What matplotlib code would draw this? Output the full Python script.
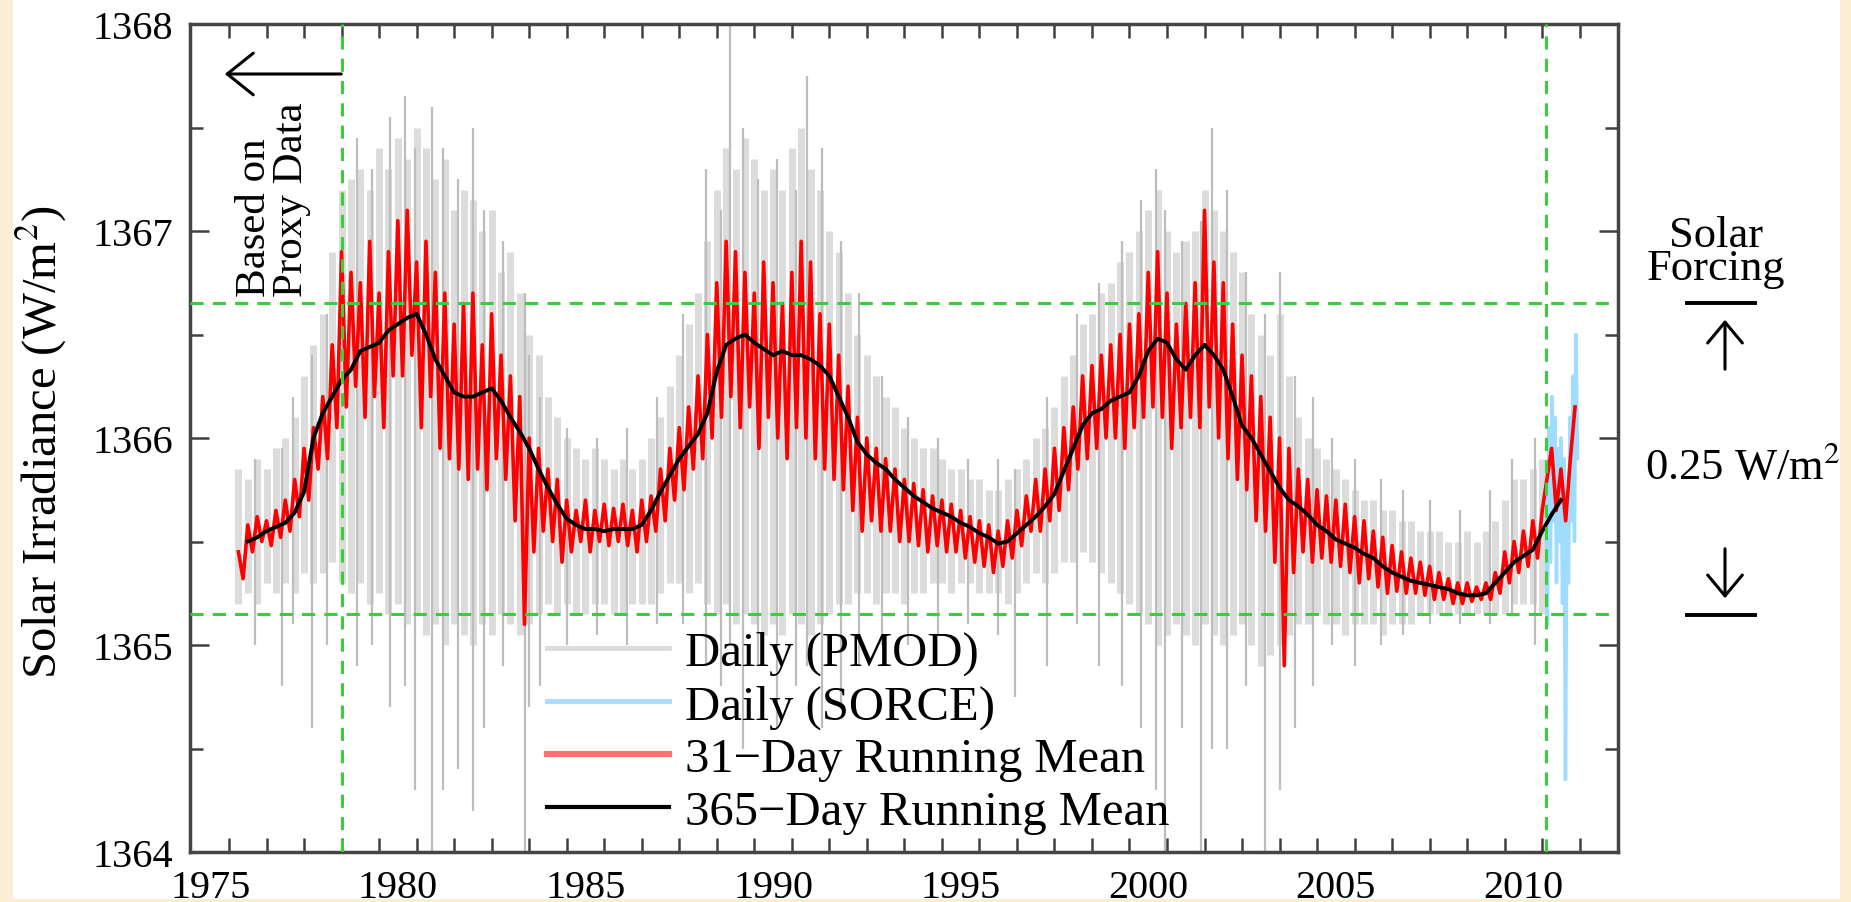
import numpy as np
import matplotlib.pyplot as plt
from matplotlib.lines import Line2D
from matplotlib.patches import Rectangle, FancyArrowPatch

plt.rcParams['font.family'] = ['Liberation Serif', 'DejaVu Serif']
plt.rcParams['mathtext.fontset'] = 'stix'

# ---------------------------------------------------------------------------
# data (W/m^2)

year_labels = [1975, 1980, 1985, 1990, 1995, 2000, 2005, 2010]

# 365-day running mean, quarterly from 1976.0 to 2011.0
mean365_t = np.arange(1976.0, 2011.01, 0.25)
mean365 = [
    1365.50, 1365.52, 1365.55, 1365.57,
    1365.59, 1365.64, 1365.74, 1366.00,
    1366.12, 1366.20, 1366.28, 1366.33,
    1366.42, 1366.44, 1366.46, 1366.52,
    1366.55, 1366.58, 1366.60, 1366.50,
    1366.38, 1366.30, 1366.22, 1366.20,
    1366.20, 1366.22, 1366.24, 1366.18,
    1366.10, 1366.03, 1365.95, 1365.85,
    1365.76, 1365.68, 1365.61, 1365.58,
    1365.56, 1365.56, 1365.55, 1365.56,
    1365.56, 1365.56, 1365.58, 1365.65,
    1365.74, 1365.82, 1365.90, 1365.96,
    1366.02, 1366.12, 1366.32, 1366.45,
    1366.48, 1366.50, 1366.46, 1366.43,
    1366.40, 1366.42, 1366.40, 1366.40,
    1366.38, 1366.35, 1366.30, 1366.20,
    1366.10, 1365.98, 1365.92, 1365.88,
    1365.85, 1365.80, 1365.76, 1365.72,
    1365.69, 1365.66, 1365.64, 1365.62,
    1365.59, 1365.57, 1365.54, 1365.52,
    1365.49, 1365.50, 1365.54, 1365.58,
    1365.62, 1365.67, 1365.73, 1365.84,
    1365.95, 1366.06, 1366.12, 1366.14,
    1366.18, 1366.20, 1366.22, 1366.30,
    1366.42, 1366.48, 1366.46, 1366.38,
    1366.33, 1366.40, 1366.45, 1366.40,
    1366.33, 1366.20, 1366.06, 1366.00,
    1365.92, 1365.84, 1365.76, 1365.70,
    1365.67, 1365.63, 1365.58, 1365.55,
    1365.51, 1365.49, 1365.47, 1365.44,
    1365.42, 1365.38, 1365.35, 1365.33,
    1365.31, 1365.30, 1365.29, 1365.28,
    1365.27, 1365.25, 1365.24, 1365.24,
    1365.25, 1365.30, 1365.35, 1365.40,
    1365.43, 1365.46, 1365.55, 1365.63,
    1365.70,
]

# 31-day running mean, every 1/8 year from 1975.75 to 2011.375
mean31_t = np.arange(1975.75, 2011.376, 0.125)
mean31 = [
    1365.45, 1365.32,
    1365.58, 1365.45, 1365.62, 1365.50, 1365.60, 1365.48, 1365.65, 1365.52,
    1365.70, 1365.55, 1365.80, 1365.62, 1365.95, 1365.70, 1366.05, 1365.85,
    1366.20, 1365.90, 1366.45, 1366.05, 1366.90, 1366.15, 1366.80, 1366.25,
    1366.75, 1366.10, 1366.95, 1366.20, 1366.70, 1366.05, 1366.90, 1366.30,
    1367.05, 1366.30, 1367.10, 1366.40, 1366.85, 1366.05, 1366.95, 1366.20,
    1366.80, 1365.95, 1366.70, 1365.90, 1366.55, 1365.85, 1366.65, 1365.80,
    1366.70, 1365.85, 1366.45, 1365.75, 1366.60, 1365.90, 1366.40, 1365.80,
    1366.30, 1365.60, 1366.20, 1365.10, 1366.00, 1365.45, 1365.95, 1365.55,
    1365.85, 1365.50, 1365.80, 1365.40, 1365.70, 1365.45, 1365.65, 1365.50,
    1365.70, 1365.45, 1365.65, 1365.50, 1365.68, 1365.48, 1365.66, 1365.50,
    1365.68, 1365.48, 1365.65, 1365.45, 1365.70, 1365.50, 1365.72, 1365.55,
    1365.85, 1365.60, 1365.95, 1365.70, 1366.05, 1365.75, 1366.15, 1365.85,
    1366.30, 1365.90, 1366.50, 1366.00, 1366.75, 1366.10, 1366.95, 1366.20,
    1366.90, 1366.05, 1366.80, 1366.15, 1366.70, 1365.95, 1366.85, 1366.10,
    1366.75, 1366.00, 1366.65, 1365.90, 1366.80, 1366.05, 1366.95, 1366.00,
    1366.85, 1365.90, 1366.60, 1365.85, 1366.55, 1365.80, 1366.40, 1365.75,
    1366.25, 1365.65, 1366.10, 1365.55, 1366.00, 1365.60, 1365.95, 1365.55,
    1365.90, 1365.55, 1365.85, 1365.50, 1365.80, 1365.50, 1365.78, 1365.48,
    1365.75, 1365.45, 1365.72, 1365.48, 1365.70, 1365.45, 1365.68, 1365.45,
    1365.65, 1365.42, 1365.62, 1365.40, 1365.60, 1365.38, 1365.58, 1365.35,
    1365.55, 1365.38, 1365.60, 1365.42, 1365.65, 1365.48, 1365.72, 1365.55,
    1365.80, 1365.55, 1365.85, 1365.60, 1365.95, 1365.65, 1366.05, 1365.75,
    1366.15, 1365.85, 1366.30, 1365.90, 1366.35, 1365.95, 1366.40, 1366.00,
    1366.45, 1366.00, 1366.50, 1365.95, 1366.55, 1366.05, 1366.60, 1366.10,
    1366.80, 1366.15, 1366.90, 1366.10, 1366.70, 1365.95, 1366.55, 1366.05,
    1366.65, 1366.10, 1366.75, 1366.05, 1367.10, 1366.15, 1366.85, 1366.00,
    1366.75, 1365.90, 1366.55, 1365.80, 1366.40, 1365.75, 1366.30, 1365.60,
    1366.20, 1365.55, 1366.10, 1365.40, 1366.00, 1364.90, 1365.95, 1365.35,
    1365.85, 1365.45, 1365.80, 1365.40, 1365.75, 1365.42, 1365.72, 1365.40,
    1365.70, 1365.38, 1365.68, 1365.35, 1365.62, 1365.30, 1365.60, 1365.32,
    1365.55, 1365.28, 1365.52, 1365.25, 1365.48, 1365.26, 1365.45, 1365.25,
    1365.42, 1365.25, 1365.40, 1365.24, 1365.38, 1365.22, 1365.35, 1365.22,
    1365.32, 1365.20, 1365.30, 1365.20, 1365.30, 1365.21, 1365.28, 1365.22,
    1365.30, 1365.22, 1365.35, 1365.25, 1365.45, 1365.30, 1365.50, 1365.35,
    1365.55, 1365.38, 1365.60, 1365.42, 1365.65, 1365.80, 1365.95, 1365.65,
    1365.85, 1365.60, 1365.90, 1366.15,
]

# daily PMOD: quarterly envelope 1975.75 .. 2010.5
pmod_t = np.arange(1975.75, 2010.51, 0.25)
pmod_hi = [
    1365.85,
    1365.80, 1365.90, 1365.85, 1365.95,
    1366.00, 1366.10, 1366.30, 1366.45,
    1366.60, 1366.90, 1367.20, 1367.25,
    1367.30, 1367.20, 1367.40, 1367.30,
    1367.45, 1367.35, 1367.50, 1367.40,
    1367.25, 1367.35, 1367.10, 1367.20,
    1367.15, 1367.00, 1367.10, 1366.80,
    1366.90, 1366.70, 1366.50, 1366.40,
    1366.20, 1366.10, 1366.00, 1365.95,
    1365.90, 1365.95, 1365.90, 1365.85,
    1365.90, 1365.85, 1365.90, 1366.00,
    1366.10, 1366.25, 1366.40, 1366.55,
    1366.70, 1366.95, 1367.20, 1367.40,
    1367.30, 1367.45, 1367.35, 1367.20,
    1367.30, 1367.20, 1367.40, 1367.50,
    1367.30, 1367.20, 1367.00, 1366.90,
    1366.70, 1366.50, 1366.40, 1366.30,
    1366.20, 1366.15, 1366.05, 1366.00,
    1365.95, 1365.95, 1365.90, 1365.85,
    1365.85, 1365.80, 1365.80, 1365.75,
    1365.75, 1365.80, 1365.85, 1365.90,
    1366.00, 1366.05, 1366.15, 1366.30,
    1366.40, 1366.55, 1366.60, 1366.70,
    1366.75, 1366.85, 1366.90, 1367.00,
    1367.10, 1367.20, 1367.00, 1366.90,
    1366.95, 1367.00, 1367.20, 1367.10,
    1367.00, 1366.90, 1366.80, 1366.60,
    1366.50, 1366.40, 1366.60, 1366.30,
    1366.10, 1366.00, 1365.95, 1365.90,
    1365.85, 1365.80, 1365.75, 1365.70,
    1365.70, 1365.65, 1365.65, 1365.60,
    1365.60, 1365.55, 1365.55, 1365.55,
    1365.50, 1365.50, 1365.55, 1365.50,
    1365.55, 1365.60, 1365.70, 1365.80,
    1365.80, 1365.85, 1365.90,
]
pmod_lo = [
    1365.20,
    1365.25, 1365.20, 1365.30, 1365.25,
    1365.30, 1365.25, 1365.35, 1365.30,
    1365.35, 1365.40, 1365.30, 1365.25,
    1365.30, 1365.20, 1365.25, 1365.15,
    1365.20, 1365.10, 1365.15, 1365.05,
    1365.10, 1365.00, 1365.10, 1365.05,
    1365.00, 1365.10, 1365.05, 1365.15,
    1365.10, 1365.05, 1365.10, 1365.15,
    1365.20, 1365.15, 1365.20, 1365.15,
    1365.15, 1365.20, 1365.20, 1365.15,
    1365.15, 1365.20, 1365.20, 1365.20,
    1365.25, 1365.30, 1365.30, 1365.25,
    1365.30, 1365.20, 1365.15, 1365.20,
    1365.10, 1365.15, 1365.10, 1365.05,
    1365.10, 1365.05, 1365.15, 1365.10,
    1365.05, 1365.10, 1365.15, 1365.20,
    1365.20, 1365.25, 1365.25, 1365.20,
    1365.25, 1365.25, 1365.20, 1365.25,
    1365.25, 1365.30, 1365.30, 1365.25,
    1365.30, 1365.30, 1365.25, 1365.25,
    1365.25, 1365.20, 1365.25, 1365.30,
    1365.35, 1365.30, 1365.35, 1365.40,
    1365.40, 1365.45, 1365.40, 1365.35,
    1365.30, 1365.25, 1365.20, 1365.15,
    1365.10, 1365.00, 1365.05, 1365.10,
    1365.05, 1365.00, 1365.10, 1365.05,
    1365.00, 1365.05, 1365.10, 1365.00,
    1364.90, 1364.95, 1365.00, 1365.05,
    1365.10, 1365.10, 1365.15, 1365.10,
    1365.10, 1365.05, 1365.10, 1365.10,
    1365.10, 1365.05, 1365.10, 1365.10,
    1365.10, 1365.15, 1365.15, 1365.15,
    1365.15, 1365.15, 1365.15, 1365.15,
    1365.15, 1365.15, 1365.15, 1365.20,
    1365.20, 1365.20, 1365.15,
]

# single daily PMOD excursions (year, low, high)
spike_t = [1976.2, 1976.9, 1977.2, 1977.7, 1978.1, 1978.9, 1979.3, 1979.8, 1980.2,
           1980.45, 1980.9, 1981.2, 1981.6, 1982.0, 1982.3, 1982.8, 1983.4, 1983.5,
           1983.8, 1984.5, 1985.3, 1986.1, 1986.9, 1987.6, 1988.2, 1988.6, 1988.85,
           1989.2, 1989.6, 1990.1, 1990.6, 1990.9, 1991.3, 1991.8, 1992.3, 1992.9,
           1993.6, 1994.4, 1995.2, 1996.0, 1996.45, 1997.3, 1998.1, 1998.7, 1999.3,
           1999.8, 2000.2, 2000.45, 2000.9, 2001.4, 2001.7, 2002.1, 2002.6, 2003.1,
           2003.5, 2003.9, 2004.4, 2004.9, 2005.5, 2006.2, 2006.8, 2007.5, 2008.3,
           2009.1, 2009.7, 2010.3]
spike_lo = [1365.00, 1364.80, 1365.10, 1364.60, 1365.00, 1364.90, 1365.00, 1364.70, 1364.80,
            1364.30, 1364.00, 1364.30, 1364.40, 1364.20, 1364.60, 1364.90, 1364.00, 1364.70,
            1364.80, 1365.00, 1365.05, 1365.00, 1365.10, 1365.10, 1364.90, 1364.80, 1365.00,
            1364.50, 1364.90, 1364.60, 1364.80, 1364.90, 1364.60, 1364.70, 1364.90, 1365.00,
            1365.00, 1365.05, 1365.10, 1365.05, 1364.75, 1364.90, 1365.10, 1364.90, 1364.80,
            1364.60, 1364.30, 1364.00, 1364.60, 1364.00, 1364.50, 1364.50, 1364.80, 1364.00,
            1364.30, 1364.60, 1364.80, 1365.00, 1364.90, 1365.00, 1365.05, 1365.10, 1365.10,
            1365.10, 1365.15, 1365.00]
spike_hi = [1365.90, 1365.95, 1366.20, 1366.40, 1366.60, 1367.45, 1367.30, 1367.55, 1367.65,
            1367.40, 1367.60, 1367.40, 1367.25, 1367.50, 1367.10, 1366.95, 1366.70, 1366.40,
            1366.20, 1366.05, 1366.00, 1366.05, 1366.20, 1366.60, 1367.30, 1367.10, 1368.00,
            1367.50, 1367.25, 1367.35, 1367.20, 1367.75, 1367.40, 1366.95, 1366.70, 1366.30,
            1366.10, 1366.00, 1365.90, 1365.90, 1365.85, 1366.20, 1366.60, 1366.75, 1366.95,
            1367.15, 1367.30, 1367.10, 1366.95, 1367.05, 1367.50, 1367.20, 1366.80, 1366.60,
            1366.80, 1366.30, 1366.20, 1366.00, 1365.90, 1365.80, 1365.75, 1365.70, 1365.65,
            1365.75, 1365.90, 1366.00]

# daily SORCE
sorce_t = [2010.60, 2010.64, 2010.68, 2010.72, 2010.76, 2010.80, 2010.84, 2010.88,
           2010.92, 2010.96, 2011.00, 2011.04, 2011.08, 2011.12, 2011.16, 2011.20,
           2011.24, 2011.28, 2011.32, 2011.36, 2011.40, 2011.44]
sorce = [1365.80, 1365.10, 1366.05, 1365.40, 1366.20, 1365.60, 1366.10, 1365.30,
         1365.95, 1365.50, 1366.00, 1365.20, 1365.90, 1364.35, 1365.70, 1365.30,
         1366.10, 1365.60, 1366.30, 1365.50, 1366.50, 1365.90]

proxy_end = 1978.5
sorce_start = 2010.59
forcing_top = 1366.65
forcing_bottom = 1365.15

# ---------------------------------------------------------------------------
W, H = 1851, 903


def fx(px):
    return px / W


def fy(py):
    return 1 - py / H


fig = plt.figure(figsize=(W / 100, H / 100), dpi=100)
fig.patch.set_facecolor('#fbeed2')
fig.add_artist(Rectangle((fx(13), fy(900)), fx(1840 - 13), 900 / H,
                         transform=fig.transFigure, facecolor='white',
                         edgecolor='none', zorder=-10))

ax = fig.add_axes([fx(190), fy(853), fx(1618 - 190), (853 - 25) / H])

ax.vlines(pmod_t, pmod_lo, pmod_hi, color='#dcdcdc', lw=5.0, zorder=1)
ax.vlines(spike_t, spike_lo, spike_hi, color='#bdbdbd', lw=1.6, zorder=1.2)
ax.plot(sorce_t, sorce, color='#9fdcff', lw=2.5, zorder=2)
ax.plot(mean31_t, mean31, color='#ff0000', lw=2.6, zorder=3)
ax.plot(mean365_t, mean365, color='black', lw=2.8, zorder=4)

green = dict(color='#3ccc3c', lw=2.2, dashes=(4.3, 3), zorder=5)
ax.axvline(proxy_end, **green)
ax.axvline(sorce_start, **green)
ax.axhline(forcing_top, **green)
ax.axhline(forcing_bottom, **green)

ax.set_xlim(1974.46, 2012.52)
ax.set_ylim(1364, 1368)
ax.set_xticks(year_labels)
ax.set_xticks(np.arange(1975.5, 2012, 1.0), minor=True)
ax.set_yticks([1364, 1365, 1366, 1367, 1368])
ax.set_yticks([1364.5, 1365.5, 1366.5, 1367.5], minor=True)
tick_col = '#404040'
ax.tick_params(axis='x', which='major', length=0, pad=12, labelsize=29)
ax.tick_params(axis='x', which='minor', length=10, width=1.8, direction='in',
               top=True, bottom=True, color=tick_col)
ax.tick_params(axis='y', which='major', length=14, width=1.8, direction='in',
               left=True, right=True, labelsize=29, pad=12, color=tick_col)
ax.tick_params(axis='y', which='minor', length=9.5, width=1.8, direction='in',
               left=True, right=True, color=tick_col)
for sp in ax.spines.values():
    sp.set_color('#454545')
    sp.set_linewidth(2.5)

fig.text(fx(41), fy(442), 'Solar Irradiance (W/m$^2$)', rotation=90,
         ha='center', va='center', fontsize=35)

# legend
handles = [Line2D([], [], color='#dcdcdc', lw=3.5),
           Line2D([], [], color='#a8dcff', lw=3.5),
           Line2D([], [], color='#ff7373', lw=4.5),
           Line2D([], [], color='black', lw=3)]
labels = ['Daily (PMOD)', 'Daily (SORCE)', '31\u2212Day Running Mean',
          '365\u2212Day Running Mean']
ax.legend(handles, labels, loc='upper left', bbox_to_anchor=(fx(547), fy(632)),
          bbox_transform=fig.transFigure, frameon=False, fontsize=35,
          handlelength=2.5, handletextpad=0.33, labelspacing=0.18,
          borderpad=0, borderaxespad=0)

# proxy note
fig.text(fx(273), fy(297), 'Based on\nProxy Data', rotation=90, ha='center',
         va='bottom', multialignment='left', linespacing=0.95, fontsize=31)
fig.add_artist(FancyArrowPatch((fx(344), fy(75)), (fx(222), fy(75)),
                               transform=fig.transFigure,
                               arrowstyle='->,head_length=0.75,head_width=0.6',
                               mutation_scale=25, lw=2.2, color='black'))

# forcing scale on the right
fig.text(fx(1716), fy(280), 'Solar\nForcing', ha='center', va='baseline',
         multialignment='center', linespacing=0.78, fontsize=32)
fig.text(fx(1743), fy(467), '0.25 W/m$^2$', ha='center', va='center', fontsize=32)
for yy in (304, 616):
    fig.add_artist(Line2D([fx(1687), fx(1755)], [fy(yy), fy(yy)],
                          color='black', lw=2.8))
fig.add_artist(FancyArrowPatch((fx(1725), fy(373)), (fx(1725), fy(318)),
                               transform=fig.transFigure,
                               arrowstyle='->,head_length=0.6,head_width=0.5',
                               mutation_scale=25, lw=2.2, color='black'))
fig.add_artist(FancyArrowPatch((fx(1725), fy(547)), (fx(1725), fy(602)),
                               transform=fig.transFigure,
                               arrowstyle='->,head_length=0.6,head_width=0.5',
                               mutation_scale=25, lw=2.2, color='black'))

fig.savefig('out.png', dpi=100, facecolor=fig.get_facecolor())
